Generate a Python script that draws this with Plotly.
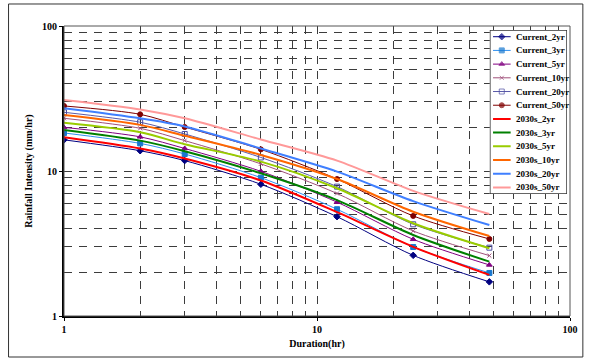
import plotly.graph_objects as go

# ---------------- data ----------------
durations = [1, 2, 3, 6, 12, 24, 48]

current_2yr = [16.4, 13.8, 11.8, 8.1, 4.84, 2.62, 1.72]
current_3yr = [18.3, 15.5, 13.1, 9.0, 5.45, 2.99, 1.98]
current_5yr = [20.0, 17.2, 14.3, 9.95, 6.1, 3.38, 2.25]
current_10yr = [23.1, 19.7, 16.2, 11.2, 7.0, 3.86, 2.61]
current_20yr = [25.4, 21.7, 18.0, 12.4, 7.8, 4.29, 2.96]
current_50yr = [28.1, 24.6, 20.1, 14.1, 8.8, 4.9, 3.40]

f2030s_2yr = [17.1, 14.3, 12.2, 8.6, 5.2, 3.0, 1.92]
f2030s_3yr = [19.2, 16.2, 13.7, 9.64, 6.3, 3.62, 2.37]
f2030s_5yr = [21.5, 18.5, 15.3, 11.6, 7.6, 4.36, 2.93]
f2030s_10yr = [24.3, 20.8, 17.5, 12.9, 8.8, 5.24, 3.56]
f2030s_20yr = [27.1, 23.1, 20.3, 14.3, 9.9, 6.2, 4.24]
f2030s_50yr = [30.9, 26.6, 23.1, 16.5, 11.8, 7.3, 5.05]

series_names = ["Current_2yr", "Current_3yr", "Current_5yr", "Current_10yr",
                "Current_20yr", "Current_50yr", "2030s_2yr", "2030s_3yr",
                "2030s_5yr", "2030s_10yr", "2030s_20yr", "2030s_50yr"]
series_values = [current_2yr, current_3yr, current_5yr, current_10yr,
                 current_20yr, current_50yr, f2030s_2yr, f2030s_3yr,
                 f2030s_5yr, f2030s_10yr, f2030s_20yr, f2030s_50yr]

tick_vals = [1, 10, 100]
tick_text = ["1", "10", "100"]

# ---------------- styles ----------------
styles = [
    dict(color="#000080", width=1, symbol="diamond", msize=5, mcolor="#000080"),
    dict(color="#2f8fef", width=1, symbol="square", msize=5, mcolor="#1878d0"),
    dict(color="#800080", width=1, symbol="triangle-up", msize=5, mcolor="#800080"),
    dict(color="#a0507a", width=1, symbol="x-thin-open", msize=4, mcolor="#a0507a"),
    dict(color="#5a5aa8", width=1, symbol="square-open", msize=5, mcolor="#4a4aa0"),
    dict(color="#800000", width=1, symbol="circle", msize=5, mcolor="#800000"),
    dict(color="#ff0000", width=2, symbol=None),
    dict(color="#008000", width=2, symbol=None),
    dict(color="#99cc00", width=2, symbol=None),
    dict(color="#ff6600", width=2, symbol=None),
    dict(color="#3f7fff", width=2, symbol=None),
    dict(color="#ff9999", width=2, symbol=None),
]

FONT = "Liberation Serif, Times New Roman, serif"

fig = go.Figure()

for name, vals, st in zip(series_names, series_values, styles):
    kw = dict(
        x=durations, y=vals, name=name, showlegend=False,
        line=dict(color=st["color"], width=st["width"], shape="spline", smoothing=0.8),
        xaxis="x", yaxis="y", hoverinfo="skip",
    )
    if st["symbol"]:
        kw["mode"] = "lines+markers"
        kw["marker"] = dict(symbol=st["symbol"], size=st["msize"], color=st["mcolor"],
                            line=dict(color=st["mcolor"], width=1))
    else:
        kw["mode"] = "lines"
    fig.add_trace(go.Scatter(**kw))

# ---------------- legend as a small inset subplot ----------------
n = len(series_names)
fig.add_trace(go.Scatter(
    x=[0, 1, 1, 0, 0], y=[-0.49, -0.49, n - 0.52, n - 0.52, -0.49],
    fill="toself", fillcolor="white", mode="lines",
    line=dict(color="#333333", width=1.5), xaxis="x2", yaxis="y2",
    showlegend=False, hoverinfo="skip", cliponaxis=False,
))
for i, (name, st) in enumerate(zip(series_names, styles)):
    kw = dict(x=[0.042, 0.155, 0.27], y=[i, i, i], xaxis="x2", yaxis="y2",
              showlegend=False, hoverinfo="skip", cliponaxis=False,
              line=dict(color=st["color"], width=st["width"]))
    if st["symbol"]:
        kw["mode"] = "lines+markers"
        kw["marker"] = dict(symbol=st["symbol"], size=[0, st["msize"], 0], color=st["mcolor"],
                            line=dict(color=st["mcolor"], width=1))
    else:
        kw["mode"] = "lines"
    fig.add_trace(go.Scatter(**kw))
    fig.add_annotation(x=0.31, y=i, xref="x2", yref="y2", text=name, showarrow=False,
                       xanchor="left", yanchor="middle",
                       font=dict(family=FONT, size=9, color="black", weight="bold"))

grid_color = "#3c3c3c"
grid_dash = "8px,7px"

axis_common = dict(
    type="log", range=[0, 2], tickvals=tick_vals, ticktext=tick_text,
    showgrid=True, gridcolor=grid_color, gridwidth=1, griddash=grid_dash,
    minor=dict(dtick="D1", showgrid=True, gridcolor=grid_color, gridwidth=1,
               griddash=grid_dash, ticks=""),
    showline=True, linecolor="black", linewidth=2, mirror=False,
    ticks="outside", ticklen=3, tickcolor="black",
    tickfont=dict(family=FONT, size=10, color="black", weight="bold"),
    zeroline=False, fixedrange=True,
)

fig.update_layout(
    width=590, height=361,
    margin=dict(l=64, r=15, t=26, b=45),
    paper_bgcolor="white", plot_bgcolor="white",
    showlegend=False,
    xaxis=dict(axis_common, domain=[0, 1], anchor="y",
               title=dict(text="Duration(hr)", standoff=6,
                          font=dict(family=FONT, size=10, color="black", weight="bold"))),
    yaxis=dict(axis_common, domain=[0, 1], anchor="x",
               title=dict(text="Rainfall Intensity (mm/hr)", standoff=8,
                          font=dict(family=FONT, size=10, color="black", weight="bold"))),
    xaxis2=dict(domain=[0.8415, 0.9941], range=[0, 1], anchor="y2", visible=False,
                fixedrange=True),
    yaxis2=dict(domain=[0.4207, 0.9862], range=[n - 0.52, -0.49], anchor="x2",
                visible=False, fixedrange=True),
    shapes=[
        # plot-area border (top/right)
        dict(type="rect", xref="paper", yref="paper", x0=0, x1=1, y0=0, y1=1,
             line=dict(color="#555555", width=1), layer="above"),
        # outer chart border
        dict(type="rect", xref="paper", yref="paper", x0=-0.1096, x1=1.0254,
             y0=-0.1414, y1=1.0759, line=dict(color="#333333", width=1), layer="above"),
    ],
)

fig.write_html("out.html")
